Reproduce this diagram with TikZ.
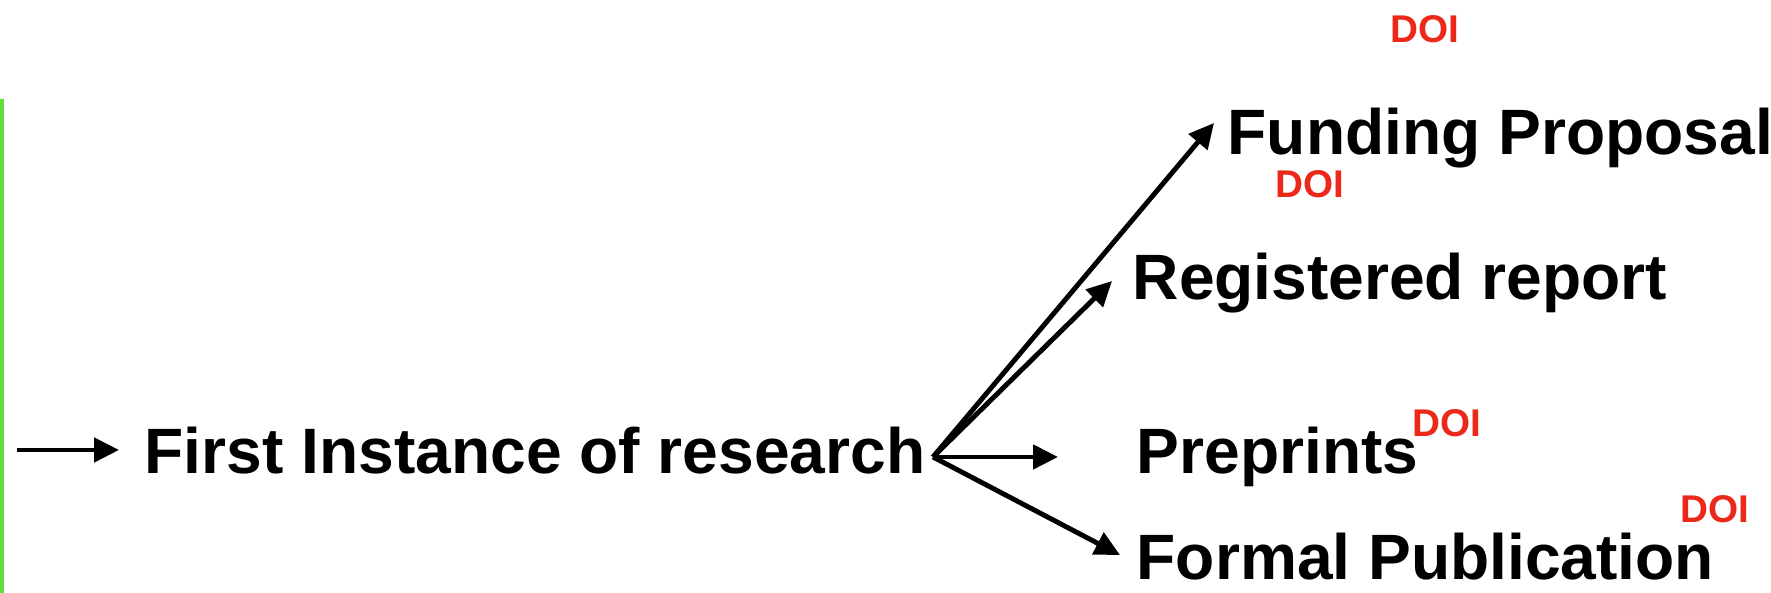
\documentclass[tikz,border=0pt]{standalone}
\usepackage{fontspec}
\setmainfont{Liberation Sans}
\usetikzlibrary{arrows.meta}
\definecolor{doired}{RGB}{235,40,25}
\definecolor{barGreen}{RGB}{95,225,60}
\tikzset{
    stage/.style={anchor=base west, inner sep=0pt, font=\fontsize{18.25}{20}\selectfont\bfseries},
    doitag/.style={anchor=base west, inner sep=0pt, text=doired, font=\fontsize{11}{12}\selectfont\bfseries},
    link/.style={line width=1.4pt, -{Triangle[length=0.25cm, width=0.24cm]}}
}
\begin{document}
\begin{tikzpicture}
        \useasboundingbox (0, 0) rectangle (17.71, 5.93);
        \draw[barGreen, line width=0.9pt] (0.02, 0) -- (0.02, 4.94);
        \node[stage] (first) at (1.44, 1.19) {First Instance of research};
        \node[stage] (fund) at (12.27, 4.38) {Funding Proposal};
        \node[stage] (reg) at (11.32, 2.93) {Registered report};
        \node[stage] (pre) at (11.36, 1.19) {Preprints};
        \node[stage] (formal) at (11.36, 0.13) {Formal Publication};
        \node[doitag] (doitop) at (13.90, 5.50) {DOI};
        \node[doitag] (doifund) at (12.75, 3.95) {DOI};
        \node[doitag] (doipre) at (14.12, 1.56) {DOI};
        \node[doitag] (doiformal) at (16.80, 0.70) {DOI};
        \coordinate (start) at (0.17, 1.43);
        \coordinate (into) at (1.19, 1.43);
        \coordinate (fan) at (9.33, 1.36);
        \coordinate (tofund) at (12.14, 4.70);
        \coordinate (toreg) at (11.12, 3.12);
        \coordinate (topre) at (10.58, 1.36);
        \coordinate (toformal) at (11.20, 0.38);
        \draw[link] (start) -- (into);
        \draw[link] (fan) -- (tofund);
        \draw[link] (fan) -- (toreg);
        \draw[link] (fan) -- (topre);
        \draw[link] (fan) -- (toformal);
\end{tikzpicture}
\end{document}
